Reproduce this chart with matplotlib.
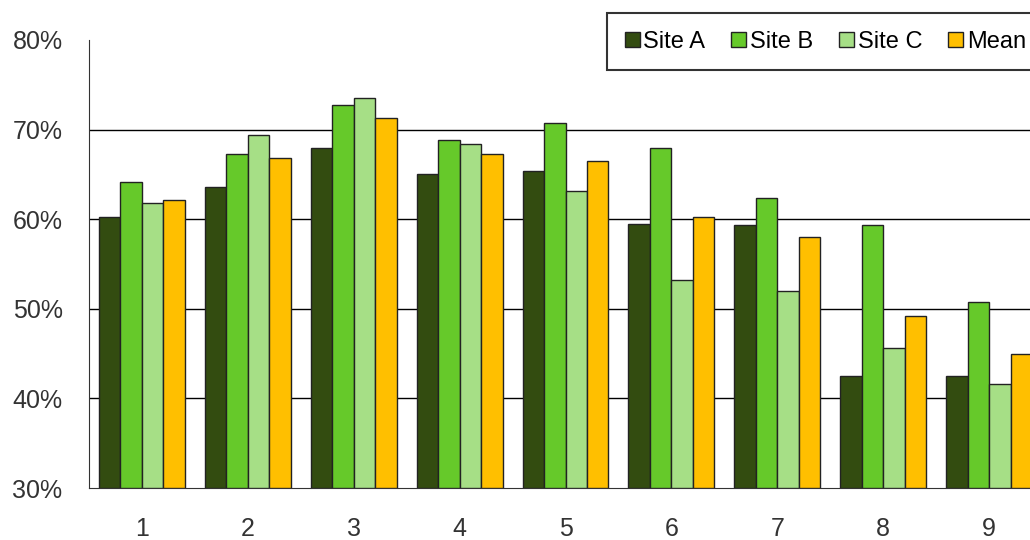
import numpy as np
import matplotlib
matplotlib.use('Agg')
import matplotlib.pyplot as plt
from matplotlib.ticker import FuncFormatter

plt.rcParams['font.family'] = ['Liberation Sans', 'DejaVu Sans']

groups = [1, 2, 3, 4, 5, 6, 7, 8, 9]
site_a = [60.2, 63.6, 67.9, 65.0, 65.4, 59.5, 59.4, 42.5, 42.5]
site_b = [64.2, 67.3, 72.7, 68.8, 70.7, 67.9, 62.4, 59.4, 50.8]
site_c = [61.8, 69.4, 73.5, 68.4, 63.2, 53.2, 52.0, 45.6, 41.6]
mean = [62.1, 66.8, 71.3, 67.3, 66.5, 60.2, 58.0, 49.2, 45.0]

series = [("Site A", site_a, "#334c10"),
          ("Site B", site_b, "#66c92a"),
          ("Site C", site_c, "#a6df86"),
          ("Mean", mean, "#ffbf00")]

fig = plt.figure(figsize=(10.3, 5.4), dpi=100)
ax = fig.add_axes([89 / 1030, 52 / 540, 953 / 1030, 448 / 540])

x = np.array(groups)
w = 0.203
for i, (name, vals, col) in enumerate(series):
    ax.bar(x + (i - 1.5) * w, np.array(vals) - 30, bottom=30, width=w,
           color=col, edgecolor="#222222", linewidth=1, label=name, zorder=3)

ax.set_xlim(0.5, 9.5)
ax.set_ylim(30, 80)
ax.set_yticks([30, 40, 50, 60, 70, 80])
ax.yaxis.set_major_formatter(FuncFormatter(lambda v, p: f"{v:.0f}%"))
ax.set_xticks(x)
ax.set_xticklabels([str(g) for g in groups])
for yv in [40, 50, 60, 70]:
    ax.axhline(yv, color="black", linewidth=1, zorder=1)

for s in ["top", "right"]:
    ax.spines[s].set_visible(False)
ax.spines["left"].set_color("#333333")
ax.spines["bottom"].set_color("#333333")
ax.tick_params(length=0, labelsize=18, colors="#333333")
ax.tick_params(axis="y", pad=19)
ax.tick_params(axis="x", pad=21)

leg = ax.legend(loc="upper left", bbox_to_anchor=(607 / 1030, 1 - 13 / 540),
                bbox_transform=fig.transFigure, ncol=4, fontsize=17,
                frameon=True, fancybox=False, handlelength=0.64, handleheight=0.64,
                handletextpad=0.15, columnspacing=1.1, borderpad=0.75,
                borderaxespad=0)
leg.get_frame().set_edgecolor("black")
leg.get_frame().set_linewidth(1.5)

fig.savefig("out.png", dpi=100)
